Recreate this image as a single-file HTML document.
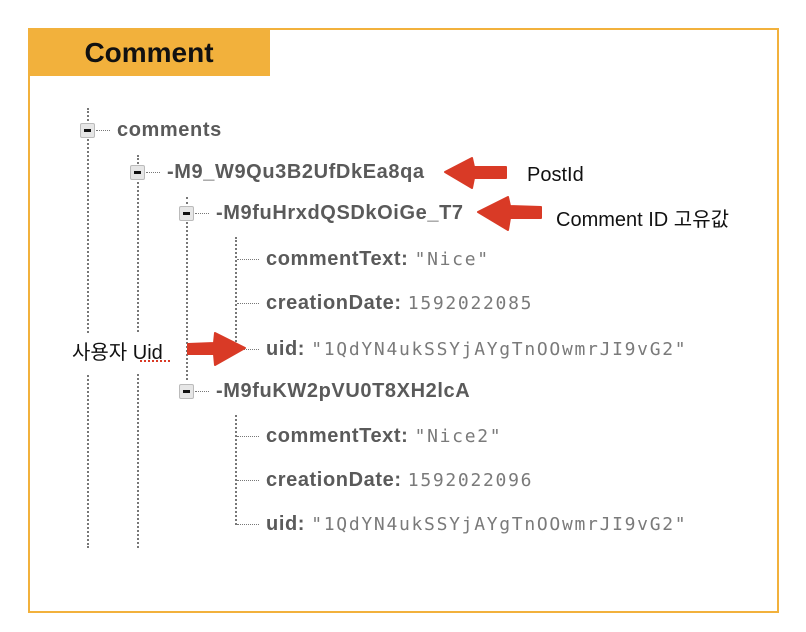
<!DOCTYPE html>
<html><head><meta charset="utf-8"><style>
body{margin:0;background:#fff;width:806px;height:632px;position:relative;overflow:hidden;font-family:"Liberation Sans","Noto Sans CJK KR",sans-serif}
.frame{position:absolute;left:28px;top:28px;width:747px;height:581px;border:2px solid #f2b13c}
.hdr{position:absolute;left:28px;top:28px;width:242px;height:48px;background:#f2b13c;font-weight:bold;font-size:28px;line-height:50px;text-align:center;color:#111}
.v{position:absolute;border-left:2px dotted #777;width:0}
.h{position:absolute;border-top:1px dotted #777;height:0}
.box{position:absolute;width:13px;height:13px;background:#e6e6e6;border:1px solid #bbb;border-radius:2px}
.box:after{content:"";position:absolute;left:3px;top:5px;width:7px;height:3px;background:#111}
.k{position:absolute;font-weight:bold;color:#5a5a5a;font-size:20px;letter-spacing:0.6px;line-height:20px;white-space:nowrap}
.val{font-family:"DejaVu Sans Mono","Liberation Mono",monospace;font-weight:normal;color:#7a7a7a;font-size:18px;letter-spacing:1.7px}
.lab{position:absolute;font-size:20px;color:#111;white-space:nowrap}
</style></head><body>
<div class="frame"></div>
<div class="hdr">Comment</div>

<div class="v" style="left:87px;top:108px;height:440px"></div>
<div class="v" style="left:137px;top:155px;height:393px"></div>
<div class="v" style="left:186px;top:197px;height:183px"></div>
<div class="v" style="left:235px;top:237px;height:112px"></div>
<div class="v" style="left:235px;top:415px;height:110px"></div>

<div class="box" style="left:80px;top:123px"></div><div class="h" style="left:96px;top:130px;width:14px"></div>
<div class="k" style="left:117px;top:120px">comments</div>
<div class="box" style="left:130px;top:165px"></div><div class="h" style="left:146px;top:172px;width:14px"></div>
<div class="k" style="left:167px;top:162px">-M9_W9Qu3B2UfDkEa8qa</div>
<div class="box" style="left:179px;top:206px"></div><div class="h" style="left:195px;top:213px;width:14px"></div>
<div class="k" style="left:216px;top:203px">-M9fuHrxdQSDkOiGe_T7</div>
<div class="box" style="left:179px;top:384px"></div><div class="h" style="left:195px;top:391px;width:14px"></div>
<div class="k" style="left:216px;top:381px">-M9fuKW2pVU0T8XH2lcA</div>

<div class="h" style="left:237px;top:259px;width:22px"></div><div class="k" style="left:266px;top:249px">commentText: <span class="val">"Nice"</span></div>
<div class="h" style="left:237px;top:303px;width:22px"></div><div class="k" style="left:266px;top:293px">creationDate: <span class="val">1592022085</span></div>
<div class="h" style="left:237px;top:349px;width:22px"></div><div class="k" style="left:266px;top:339px">uid: <span class="val">"1QdYN4ukSSYjAYgTnOOwmrJI9vG2"</span></div>
<div class="h" style="left:237px;top:436px;width:22px"></div><div class="k" style="left:266px;top:426px">commentText: <span class="val">"Nice2"</span></div>
<div class="h" style="left:237px;top:480px;width:22px"></div><div class="k" style="left:266px;top:470px">creationDate: <span class="val">1592022096</span></div>
<div class="h" style="left:237px;top:524px;width:22px"></div><div class="k" style="left:266px;top:514px">uid: <span class="val">"1QdYN4ukSSYjAYgTnOOwmrJI9vG2"</span></div>

<div class="lab" style="left:70px;top:334px;background:#fff;padding:2px 2px 8px">사용자 Uid</div>
<svg width="806" height="632" style="position:absolute;left:0;top:0">
<g fill="#d93a26" stroke="#d93a26" stroke-width="2" stroke-linejoin="round">
<polygon points="445,172 472,158 474,167 506,167 506,178 474,178 472,188"/>
<polygon points="478,212 508,197 510,206 541,207 541,218 510,218 508,230"/>
<polygon points="245,348 215,333 214,343 188,344 188,354 214,354 215,365"/>
</g>
<line x1="140" y1="361" x2="172" y2="361" stroke="#d93a26" stroke-width="2" stroke-dasharray="2,2"/>
</svg>
<div class="lab" style="left:527px;top:164px">PostId</div>
<div class="lab" style="left:556px;top:203px">Comment ID 고유값</div>
</body></html>
